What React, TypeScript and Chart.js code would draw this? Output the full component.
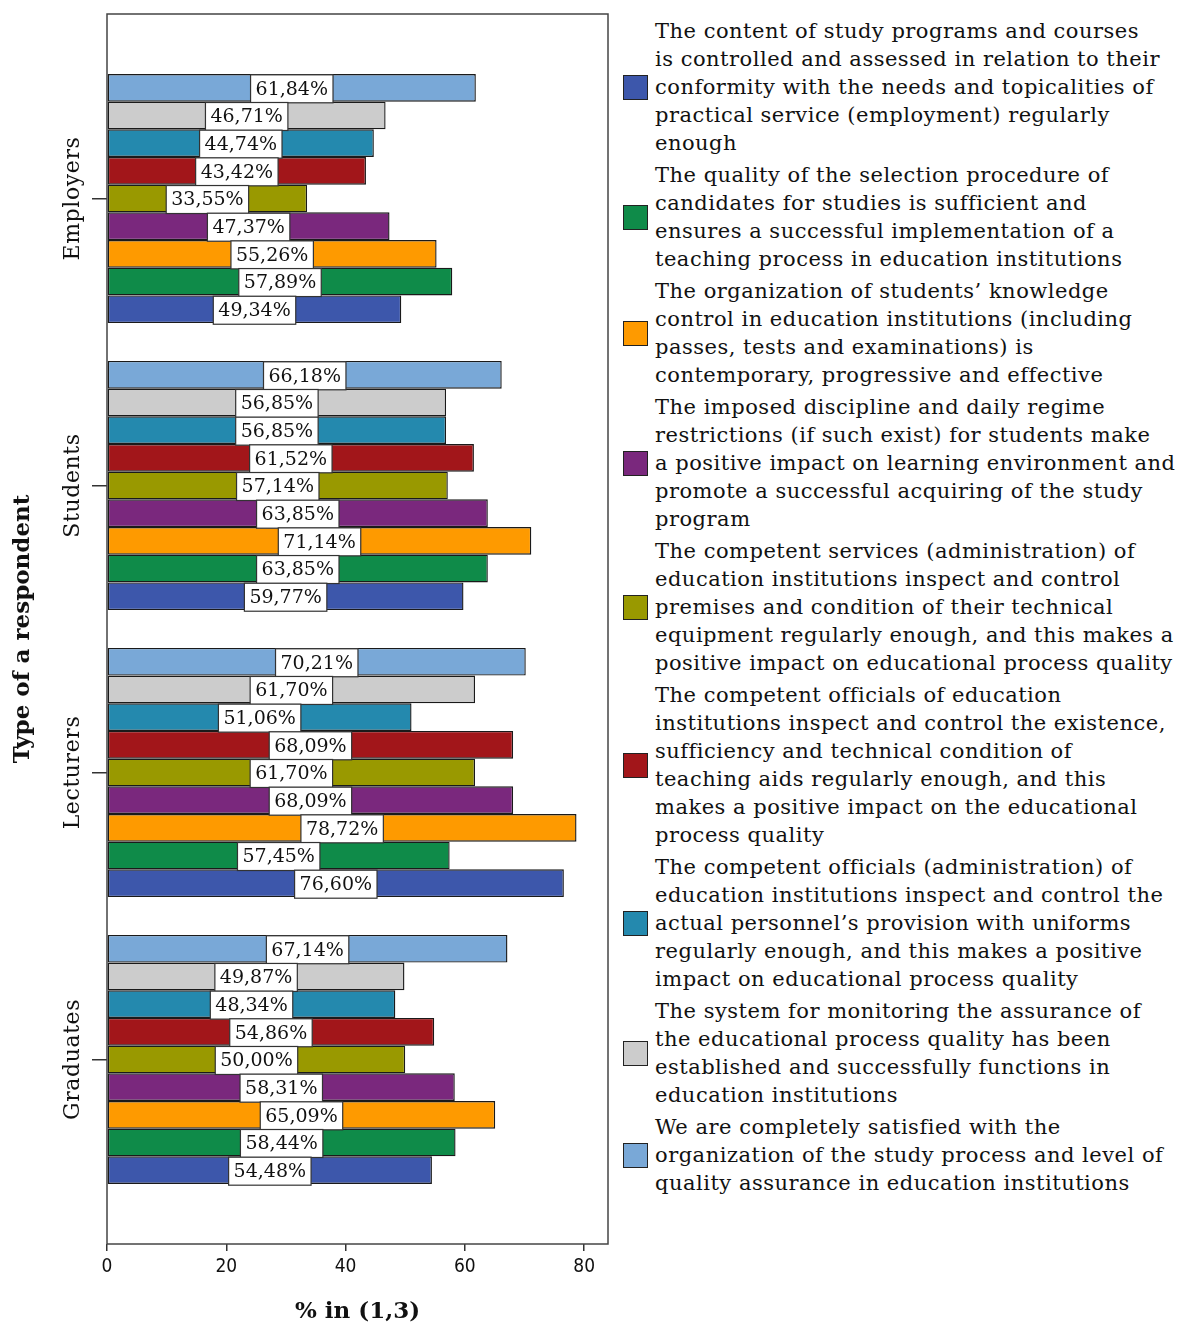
import React, { useEffect, useRef } from 'react';
import { Chart, registerables } from 'chart.js';

Chart.register(...registerables);

const categories = ['Employers', 'Students', 'Lecturers', 'Graduates'];
const xTickValues = [0, 20, 40, 60, 80];
const xMax = 84;
const xAxisTitle = '% in (1,3)';
const yAxisTitle = 'Type of a respondent';

const programContent = [49.34, 59.77, 76.6, 54.48];
const selectionProcedure = [57.89, 63.85, 57.45, 58.44];
const knowledgeControl = [55.26, 71.14, 78.72, 65.09];
const disciplineRegime = [47.37, 63.85, 68.09, 58.31];
const premisesEquipment = [33.55, 57.14, 61.7, 50.0];
const teachingAids = [43.42, 61.52, 68.09, 54.86];
const uniformsProvision = [44.74, 56.85, 51.06, 48.34];
const monitoringSystem = [46.71, 56.85, 61.7, 49.87];
const completelySatisfied = [61.84, 66.18, 70.21, 67.14];

const seriesValues = [
  programContent,
  selectionProcedure,
  knowledgeControl,
  disciplineRegime,
  premisesEquipment,
  teachingAids,
  uniformsProvision,
  monitoringSystem,
  completelySatisfied,
];

const seriesColors = [
  '#3d57ab',
  '#0f8b49',
  '#fe9a00',
  '#7a287d',
  '#999900',
  '#a2161a',
  '#2489ae',
  '#cccccc',
  '#79a8d7',
];

const seriesLegendLines = [
  [
    'The content of study programs and courses',
    'is controlled and assessed in relation to their',
    'conformity with the needs and topicalities of',
    'practical service (employment) regularly',
    'enough',
  ],
  [
    'The quality of the selection procedure of',
    'candidates for studies is sufficient and',
    'ensures a successful implementation of a',
    'teaching process in education institutions',
  ],
  [
    'The organization of students\u2019 knowledge',
    'control in education institutions (including',
    'passes, tests and examinations) is',
    'contemporary, progressive and effective',
  ],
  [
    'The imposed discipline and daily regime',
    'restrictions (if such exist) for students make',
    'a positive impact on learning environment and',
    'promote a successful acquiring of the study',
    'program',
  ],
  [
    'The competent services (administration) of',
    'education institutions inspect and control',
    'premises and condition of their technical',
    'equipment regularly enough, and this makes a',
    'positive impact on educational process quality',
  ],
  [
    'The competent officials of education',
    'institutions inspect and control the existence,',
    'sufficiency and technical condition of',
    'teaching aids regularly enough, and this',
    'makes a positive impact on the educational',
    'process quality',
  ],
  [
    'The competent officials (administration) of',
    'education institutions inspect and control the',
    'actual personnel\u2019s provision with uniforms',
    'regularly enough, and this makes a positive',
    'impact on educational process quality',
  ],
  [
    'The system for monitoring the assurance of',
    'the educational process quality has been',
    'established and successfully functions in',
    'education institutions',
  ],
  [
    'We are completely satisfied with the',
    'organization of the study process and level of',
    'quality assurance in education institutions',
  ],
];

const SERIF = '"DejaVu Serif", serif';
const SANS = '"Liberation Sans Narrow", "DejaVu Sans Condensed", "Liberation Sans", sans-serif';

const fmt = (v: number) => v.toFixed(2).replace('.', ',') + '%';

const framePlugin = {
  id: 'frame',
  afterDatasetsDraw(chart: any) {
    const { ctx, chartArea } = chart;
    ctx.save();
    ctx.strokeStyle = '#444';
    ctx.lineWidth = 1.5;
    ctx.strokeRect(chartArea.left, chartArea.top, chartArea.right - chartArea.left, chartArea.bottom - chartArea.top);
    ctx.restore();
  },
};

const categoryLabelPlugin = {
  id: 'categoryLabels',
  afterDraw(chart: any) {
    const { ctx } = chart;
    const yScale = chart.scales.y;
    ctx.save();
    ctx.fillStyle = '#111';
    ctx.font = `22px ${SERIF}`;
    try {
      ctx.letterSpacing = '0.6px';
    } catch (e) {}
    ctx.textAlign = 'center';
    ctx.textBaseline = 'middle';
    categories.forEach((name, i) => {
      const y = yScale.getPixelForValue(i);
      ctx.save();
      ctx.translate(73, y);
      ctx.rotate(-Math.PI / 2);
      ctx.fillText(name, 0, 0);
      ctx.restore();
    });
    ctx.restore();
  },
};

const valueLabelPlugin = {
  id: 'valueLabels',
  afterDatasetsDraw(chart: any) {
    const { ctx } = chart;
    ctx.save();
    ctx.font = `19px ${SERIF}`;
    ctx.textAlign = 'center';
    ctx.textBaseline = 'middle';
    chart.data.datasets.forEach((ds: any, di: number) => {
      const meta = chart.getDatasetMeta(di);
      meta.data.forEach((bar: any, i: number) => {
        const v = ds.data[i].x;
        const text = fmt(v);
        const cx = (bar.base + bar.x) / 2;
        const cy = bar.y + 1;
        const w = ctx.measureText(text).width + 10;
        const h = 28;
        ctx.fillStyle = '#ffffff';
        ctx.fillRect(cx - w / 2, cy - h / 2, w, h);
        ctx.strokeStyle = '#333';
        ctx.lineWidth = 1.2;
        ctx.strokeRect(cx - w / 2, cy - h / 2, w, h);
        ctx.fillStyle = '#111';
        ctx.fillText(text, cx, cy + 1);
      });
    });
    ctx.restore();
  },
};

function ChartCanvas() {
  const ref = useRef<HTMLCanvasElement | null>(null);
  useEffect(() => {
    if (!ref.current) return;
    const order = seriesValues.map((_, i) => i).reverse();
    const chart = new Chart(ref.current, {
      type: 'bar',
      data: {
        datasets: order.map((si) => ({
          label: seriesLegendLines[si].join(' '),
          data: seriesValues[si].map((v, ci) => ({ x: v, y: ci })),
          backgroundColor: seriesColors[si],
          borderColor: '#1a1a1a',
          borderWidth: 1.4,
          borderSkipped: false,
          barPercentage: 1.0,
          categoryPercentage: 0.868,
        })),
      },
      options: {
        indexAxis: 'y',
        responsive: false,
        animation: false,
        devicePixelRatio: 1,
        layout: { padding: { top: 14, right: 12, left: 0, bottom: 0 } },
        plugins: {
          legend: { display: false },
          tooltip: { enabled: false },
        },
        scales: {
          x: {
            type: 'linear',
            min: 0,
            max: xMax,
            offset: false,
            afterBuildTicks: (scale: any) => {
              scale.ticks = xTickValues.map((v) => ({ value: v }));
            },
            afterFit: (scale: any) => {
              scale.height = 83;
            },
            border: { display: false },
            grid: {
              drawOnChartArea: false,
              drawTicks: true,
              tickLength: 7,
              color: '#333',
              lineWidth: 1.5,
            },
            ticks: {
              color: '#111',
              padding: 5,
              font: { family: SANS, size: 19 },
            },
            title: {
              display: true,
              text: xAxisTitle,
              color: '#111',
              padding: { top: 0, bottom: 1 },
              font: { family: SERIF, size: 23, weight: 'bold' },
            },
          },
          y: {
            type: 'linear',
            reverse: true,
            offset: false,
            min: -0.643,
            max: categories.length - 1 + 0.643,
            afterBuildTicks: (scale: any) => {
              scale.ticks = categories.map((_, i) => ({ value: i }));
            },
            afterFit: (scale: any) => {
              scale.width = 107;
            },
            border: { display: false },
            grid: {
              offset: false,
              drawOnChartArea: false,
              drawTicks: true,
              tickLength: 15,
              color: '#333',
              lineWidth: 1.5,
            },
            ticks: { display: false },
            title: {
              display: true,
              text: yAxisTitle,
              color: '#111',
              padding: { top: 9, bottom: 0 },
              font: { family: SERIF, size: 23, weight: 'bold' },
            },
          },
        },
      },
      plugins: [framePlugin, valueLabelPlugin, categoryLabelPlugin],
    } as any);
    return () => chart.destroy();
  }, []);
  return <canvas ref={ref} width={620} height={1327} style={{ position: 'absolute', left: 0, top: 0 }} />;
}

function Legend() {
  return (
    <div
      style={{
        position: 'absolute',
        left: 623,
        top: 17,
        fontFamily: SERIF,
        fontSize: 21,
        letterSpacing: '0.5px',
        color: '#111',
      }}
    >
      {seriesLegendLines.map((lines, i) => (
        <div key={i} style={{ display: 'flex', alignItems: 'center', marginBottom: 4 }}>
          <div
            style={{
              width: 23,
              height: 23,
              background: seriesColors[i],
              border: '1.5px solid #222',
              flex: '0 0 auto',
              marginRight: 7,
            }}
          />
          <div style={{ lineHeight: '28px', whiteSpace: 'pre' }}>
            {lines.map((l, j) => (
              <div key={j}>{l}</div>
            ))}
          </div>
        </div>
      ))}
    </div>
  );
}

export default function App() {
  return (
    <div
      style={{
        position: 'absolute',
        left: 0,
        top: 0,
        width: 1182,
        height: 1327,
        background: '#fff',
        overflow: 'hidden',
      }}
    >
      <ChartCanvas />
      <Legend />
    </div>
  );
}
